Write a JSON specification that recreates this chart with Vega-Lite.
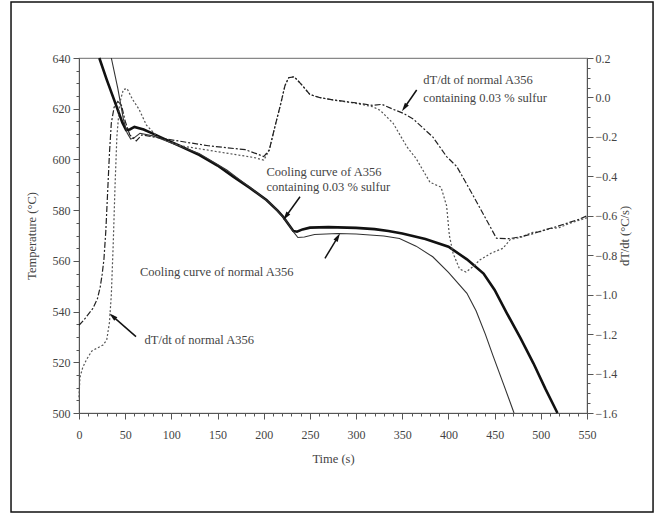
{
  "$schema": "https://vega.github.io/schema/vega-lite/v6.json",
  "width": 508,
  "height": 355,
  "autosize": {"type": "none"},
  "padding": {"left": 79, "top": 58, "right": 73, "bottom": 102},
  "background": "white",
  "config": {
    "view": {"stroke": "#888", "strokeWidth": 1.2},
    "axis": {
      "labelFont": "Liberation Serif", "titleFont": "Liberation Serif",
      "labelFontSize": 12, "titleFontSize": 12.5, "titleFontWeight": "normal",
      "labelColor": "#444", "titleColor": "#444", "domainColor": "#555", "tickColor": "#555",
      "grid": false, "labelOverlap": false, "labelFlush": false
    },
    "text": {"font": "Liberation Serif"}
  },
  "datasets": {
    "cool": [
      {"t": 22, "T": 640, "s": "S"}, {"t": 30, "T": 631.5, "s": "S"}, {"t": 40, "T": 621.5, "s": "S"}, {"t": 47, "T": 614.5, "s": "S"},
      {"t": 51, "T": 611.6, "s": "S"}, {"t": 55, "T": 611.8, "s": "S"}, {"t": 60, "T": 612.8, "s": "S"}, {"t": 70, "T": 611.8, "s": "S"},
      {"t": 80, "T": 610.2, "s": "S"}, {"t": 91, "T": 608.3, "s": "S"}, {"t": 110, "T": 605.2, "s": "S"}, {"t": 130, "T": 601.8, "s": "S"},
      {"t": 150, "T": 597.6, "s": "S"}, {"t": 167, "T": 593.2, "s": "S"}, {"t": 185, "T": 588.8, "s": "S"}, {"t": 203, "T": 584, "s": "S"},
      {"t": 215, "T": 579.8, "s": "S"}, {"t": 221, "T": 577.4, "s": "S"}, {"t": 227, "T": 574.3, "s": "S"}, {"t": 232, "T": 571.8, "s": "S"},
      {"t": 236, "T": 571.5, "s": "S"}, {"t": 242, "T": 572.4, "s": "S"}, {"t": 250, "T": 573.1, "s": "S"}, {"t": 270, "T": 573.3, "s": "S"},
      {"t": 300, "T": 573, "s": "S"}, {"t": 320, "T": 572.5, "s": "S"}, {"t": 335, "T": 571.8, "s": "S"}, {"t": 350, "T": 570.8, "s": "S"},
      {"t": 375, "T": 568.6, "s": "S"}, {"t": 400, "T": 565.6, "s": "S"}, {"t": 420, "T": 560.6, "s": "S"}, {"t": 438, "T": 555, "s": "S"},
      {"t": 450, "T": 548.5, "s": "S"}, {"t": 463, "T": 539.5, "s": "S"}, {"t": 478, "T": 529.5, "s": "S"}, {"t": 492, "T": 519.6, "s": "S"},
      {"t": 505, "T": 509.5, "s": "S"}, {"t": 518, "T": 500, "s": "S"},
      {"t": 35, "T": 640, "s": "N"}, {"t": 42, "T": 628, "s": "N"}, {"t": 48, "T": 616, "s": "N"}, {"t": 52, "T": 610.5, "s": "N"},
      {"t": 56, "T": 608, "s": "N"}, {"t": 60, "T": 608.6, "s": "N"}, {"t": 66, "T": 610.3, "s": "N"}, {"t": 80, "T": 609.3, "s": "N"},
      {"t": 100, "T": 606.5, "s": "N"}, {"t": 130, "T": 602.3, "s": "N"}, {"t": 160, "T": 595.8, "s": "N"}, {"t": 190, "T": 587.6, "s": "N"},
      {"t": 210, "T": 581.8, "s": "N"}, {"t": 225, "T": 575.5, "s": "N"}, {"t": 232, "T": 571.5, "s": "N"}, {"t": 237, "T": 569.2, "s": "N"},
      {"t": 244, "T": 569.4, "s": "N"}, {"t": 255, "T": 570.4, "s": "N"}, {"t": 280, "T": 570.8, "s": "N"}, {"t": 300, "T": 570.6, "s": "N"},
      {"t": 330, "T": 569.8, "s": "N"}, {"t": 347, "T": 568.8, "s": "N"}, {"t": 365, "T": 565.8, "s": "N"}, {"t": 383, "T": 561.6, "s": "N"},
      {"t": 400, "T": 555.5, "s": "N"}, {"t": 420, "T": 547.2, "s": "N"}, {"t": 430, "T": 540.2, "s": "N"}, {"t": 440, "T": 531, "s": "N"},
      {"t": 448, "T": 522.8, "s": "N"}, {"t": 460, "T": 511, "s": "N"}, {"t": 471, "T": 500, "s": "N"}
    ],
    "rate": [
      {"t": 0, "r": -1.155, "s": "S"}, {"t": 5, "r": -1.13, "s": "S"}, {"t": 10, "r": -1.1, "s": "S"}, {"t": 15, "r": -1.07, "s": "S"},
      {"t": 20, "r": -1.02, "s": "S"}, {"t": 23, "r": -0.96, "s": "S"}, {"t": 25, "r": -0.9, "s": "S"}, {"t": 27, "r": -0.82, "s": "S"},
      {"t": 29, "r": -0.68, "s": "S"}, {"t": 31, "r": -0.48, "s": "S"}, {"t": 33, "r": -0.28, "s": "S"}, {"t": 35, "r": -0.13, "s": "S"},
      {"t": 38, "r": -0.05, "s": "S"}, {"t": 42, "r": -0.02, "s": "S"}, {"t": 46, "r": -0.04, "s": "S"}, {"t": 50, "r": -0.12, "s": "S"},
      {"t": 55, "r": -0.19, "s": "S"}, {"t": 62, "r": -0.22, "s": "S"}, {"t": 68, "r": -0.19, "s": "S"}, {"t": 80, "r": -0.2, "s": "S"},
      {"t": 100, "r": -0.215, "s": "S"}, {"t": 120, "r": -0.23, "s": "S"}, {"t": 140, "r": -0.245, "s": "S"}, {"t": 160, "r": -0.255, "s": "S"},
      {"t": 180, "r": -0.265, "s": "S"}, {"t": 192, "r": -0.285, "s": "S"}, {"t": 200, "r": -0.3, "s": "S"}, {"t": 206, "r": -0.267, "s": "S"},
      {"t": 212, "r": -0.15, "s": "S"}, {"t": 218, "r": -0.04, "s": "S"}, {"t": 223, "r": 0.06, "s": "S"}, {"t": 227, "r": 0.1, "s": "S"},
      {"t": 233, "r": 0.105, "s": "S"}, {"t": 240, "r": 0.07, "s": "S"}, {"t": 250, "r": 0.015, "s": "S"}, {"t": 260, "r": 0.0, "s": "S"},
      {"t": 275, "r": -0.012, "s": "S"}, {"t": 300, "r": -0.028, "s": "S"}, {"t": 318, "r": -0.04, "s": "S"}, {"t": 328, "r": -0.035, "s": "S"},
      {"t": 340, "r": -0.06, "s": "S"}, {"t": 351, "r": -0.08, "s": "S"}, {"t": 362, "r": -0.11, "s": "S"}, {"t": 383, "r": -0.2, "s": "S"},
      {"t": 398, "r": -0.3, "s": "S"}, {"t": 409, "r": -0.35, "s": "S"}, {"t": 427, "r": -0.5, "s": "S"}, {"t": 441, "r": -0.62, "s": "S"},
      {"t": 452, "r": -0.714, "s": "S"}, {"t": 466, "r": -0.716, "s": "S"}, {"t": 480, "r": -0.705, "s": "S"}, {"t": 492, "r": -0.69, "s": "S"},
      {"t": 505, "r": -0.67, "s": "S"}, {"t": 517, "r": -0.655, "s": "S"}, {"t": 530, "r": -0.635, "s": "S"}, {"t": 540, "r": -0.62, "s": "S"},
      {"t": 550, "r": -0.6, "s": "S"},
      {"t": 0, "r": -1.52, "s": "N"}, {"t": 1, "r": -1.42, "s": "N"}, {"t": 4, "r": -1.37, "s": "N"}, {"t": 8, "r": -1.33, "s": "N"},
      {"t": 14, "r": -1.285, "s": "N"}, {"t": 20, "r": -1.27, "s": "N"}, {"t": 26, "r": -1.255, "s": "N"}, {"t": 30, "r": -1.23, "s": "N"},
      {"t": 33, "r": -1.14, "s": "N"}, {"t": 35, "r": -1.0, "s": "N"}, {"t": 37, "r": -0.75, "s": "N"}, {"t": 39, "r": -0.45, "s": "N"},
      {"t": 41, "r": -0.2, "s": "N"}, {"t": 44, "r": -0.03, "s": "N"}, {"t": 48, "r": 0.04, "s": "N"}, {"t": 52, "r": 0.045, "s": "N"},
      {"t": 58, "r": -0.01, "s": "N"}, {"t": 65, "r": -0.06, "s": "N"}, {"t": 73, "r": -0.14, "s": "N"}, {"t": 85, "r": -0.2, "s": "N"},
      {"t": 95, "r": -0.22, "s": "N"}, {"t": 110, "r": -0.245, "s": "N"}, {"t": 130, "r": -0.26, "s": "N"}, {"t": 150, "r": -0.275, "s": "N"},
      {"t": 170, "r": -0.29, "s": "N"}, {"t": 190, "r": -0.305, "s": "N"}, {"t": 200, "r": -0.318, "s": "N"}, {"t": 206, "r": -0.267, "s": "N"},
      {"t": 212, "r": -0.15, "s": "N"}, {"t": 218, "r": -0.04, "s": "N"}, {"t": 223, "r": 0.06, "s": "N"}, {"t": 227, "r": 0.1, "s": "N"},
      {"t": 233, "r": 0.105, "s": "N"}, {"t": 240, "r": 0.07, "s": "N"}, {"t": 250, "r": 0.015, "s": "N"}, {"t": 260, "r": 0.0, "s": "N"},
      {"t": 275, "r": -0.013, "s": "N"}, {"t": 300, "r": -0.03, "s": "N"}, {"t": 318, "r": -0.047, "s": "N"}, {"t": 326, "r": -0.065, "s": "N"},
      {"t": 333, "r": -0.098, "s": "N"}, {"t": 340, "r": -0.13, "s": "N"}, {"t": 355, "r": -0.25, "s": "N"}, {"t": 365, "r": -0.31, "s": "N"},
      {"t": 380, "r": -0.43, "s": "N"}, {"t": 392, "r": -0.455, "s": "N"}, {"t": 398, "r": -0.55, "s": "N"}, {"t": 401, "r": -0.7, "s": "N"},
      {"t": 405, "r": -0.79, "s": "N"}, {"t": 412, "r": -0.87, "s": "N"}, {"t": 419, "r": -0.885, "s": "N"}, {"t": 426, "r": -0.86, "s": "N"},
      {"t": 434, "r": -0.824, "s": "N"}, {"t": 446, "r": -0.79, "s": "N"}, {"t": 459, "r": -0.765, "s": "N"}, {"t": 467, "r": -0.72, "s": "N"},
      {"t": 478, "r": -0.71, "s": "N"}, {"t": 490, "r": -0.685, "s": "N"}, {"t": 500, "r": -0.68, "s": "N"}, {"t": 510, "r": -0.665, "s": "N"},
      {"t": 520, "r": -0.66, "s": "N"}, {"t": 530, "r": -0.64, "s": "N"}, {"t": 540, "r": -0.625, "s": "N"}, {"t": 550, "r": -0.61, "s": "N"}
    ],
    "notes": [
      {"t": 372.8, "T": 631.3, "text": "dT/dt of normal A356"},
      {"t": 372.8, "T": 624.3, "text": "containing 0.03 % sulfur"},
      {"t": 203, "T": 595.2, "text": "Cooling curve of A356"},
      {"t": 203, "T": 589.2, "text": "containing 0.03 % sulfur"},
      {"t": 66, "T": 555.7, "text": "Cooling curve of normal A356"},
      {"t": 71, "T": 528.8, "text": "dT/dt of normal A356"}
    ],
    "arrows": [
      {"t": 365.6, "T": 627.4, "t2": 352.3, "T2": 620.4},
      {"t": 239.3, "T": 585.3, "t2": 223.9, "T2": 577.5},
      {"t": 266.3, "T": 561.0, "t2": 280.2, "T2": 569.4},
      {"t": 61.7, "T": 530.1, "t2": 36.3, "T2": 538.2}
    ]
  },
  "layer": [
    {
      "layer": [
        {
          "data": {"name": "cool"},
          "transform": [{"filter": "datum.s === 'S'"}],
          "mark": {"type": "line", "color": "#111", "strokeWidth": 2.6},
          "encoding": {
            "x": {"field": "t", "type": "quantitative",
              "scale": {"domain": [0, 550], "nice": false, "zero": false},
              "axis": {"title": "Time (s)", "tickCount": 1000,
                "values": [0,10,20,30,40,50,60,70,80,90,100,110,120,130,140,150,160,170,180,190,200,210,220,230,240,250,260,270,280,290,300,310,320,330,340,350,360,370,380,390,400,410,420,430,440,450,460,470,480,490,500,510,520,530,540,550],
                "labelExpr": "datum.value % 50 === 0 ? format(datum.value, 'd') : ''",
                "tickSize": {"condition": {"test": "datum.value % 50 === 0", "value": 6}, "value": 3},
                "labelPadding": 10, "titlePadding": 12}},
            "y": {"field": "T", "type": "quantitative",
              "scale": {"domain": [500, 640], "nice": false, "zero": false},
              "axis": {"title": "Temperature (°C)", "orient": "left", "tickCount": 1000,
                "values": [500,505,510,515,520,525,530,535,540,545,550,555,560,565,570,575,580,585,590,595,600,605,610,615,620,625,630,635,640],
                "labelExpr": "datum.value % 20 === 0 ? format(datum.value, 'd') : ''",
                "tickSize": {"condition": {"test": "datum.value % 20 === 0", "value": 6}, "value": 3},
                "labelPadding": 3, "titlePadding": 14}}
          }
        },
        {
          "data": {"name": "cool"},
          "transform": [{"filter": "datum.s === 'N'"}],
          "mark": {"type": "line", "color": "#333", "strokeWidth": 1.1},
          "encoding": {
            "x": {"field": "t", "type": "quantitative"},
            "y": {"field": "T", "type": "quantitative"}
          }
        },
        {
          "data": {"name": "notes"},
          "mark": {"type": "text", "align": "left", "baseline": "middle", "fontSize": 12.5, "color": "#444", "font": "Liberation Serif"},
          "encoding": {
            "x": {"field": "t", "type": "quantitative"},
            "y": {"field": "T", "type": "quantitative"},
            "text": {"field": "text"}
          }
        },
        {
          "data": {"name": "arrows"},
          "mark": {"type": "rule", "color": "#111", "strokeWidth": 1.5},
          "encoding": {
            "x": {"field": "t", "type": "quantitative"},
            "y": {"field": "T", "type": "quantitative"},
            "x2": {"field": "t2"},
            "y2": {"field": "T2"}
          }
        },
        {
          "data": {"values": [{}]},
          "mark": {"type": "point", "shape": "M0,-1L0.55,1L-0.55,1Z", "filled": true, "color": "#111", "opacity": 1, "size": 75, "angle": -145},
          "encoding": {"x": {"datum": 352.3}, "y": {"datum": 620.4}}
        },
        {
          "data": {"values": [{}]},
          "mark": {"type": "point", "shape": "M0,-1L0.55,1L-0.55,1Z", "filled": true, "color": "#111", "opacity": 1, "size": 75, "angle": -144},
          "encoding": {"x": {"datum": 223.9}, "y": {"datum": 577.5}}
        },
        {
          "data": {"values": [{}]},
          "mark": {"type": "point", "shape": "M0,-1L0.55,1L-0.55,1Z", "filled": true, "color": "#111", "opacity": 1, "size": 75, "angle": 31},
          "encoding": {"x": {"datum": 280.2}, "y": {"datum": 569.4}}
        },
        {
          "data": {"values": [{}]},
          "mark": {"type": "point", "shape": "M0,-1L0.55,1L-0.55,1Z", "filled": true, "color": "#111", "opacity": 1, "size": 75, "angle": -49},
          "encoding": {"x": {"datum": 36.3}, "y": {"datum": 538.2}}
        },
        {
          "data": {"values": [{}]},
          "mark": {"type": "rect", "fill": null, "fillOpacity": 0, "stroke": "#111", "strokeWidth": 1.5},
          "encoding": {"x": {"datum": -73.6}, "x2": {"datum": 621.5}, "y": {"datum": 461}, "y2": {"datum": 662.1}}
        }
      ]
    },
    {
      "layer": [
        {
          "data": {"name": "rate"},
          "transform": [{"filter": "datum.s === 'N'"}],
          "mark": {"type": "line", "color": "#555", "strokeWidth": 1.2, "strokeDash": [2, 2]},
          "encoding": {
            "x": {"field": "t", "type": "quantitative"},
            "y": {"field": "r", "type": "quantitative",
              "scale": {"domain": [-1.6, 0.2], "nice": false, "zero": false},
              "axis": {"title": "dT/dt (°C/s)", "orient": "right", "titleAngle": 270, "tickCount": 1000,
                "values": [-1.6,-1.55,-1.5,-1.45,-1.4,-1.35,-1.3,-1.25,-1.2,-1.15,-1.1,-1.05,-1.0,-0.95,-0.9,-0.85,-0.8,-0.75,-0.7,-0.65,-0.6,-0.55,-0.5,-0.45,-0.4,-0.35,-0.3,-0.25,-0.2,-0.15,-0.1,-0.05,0,0.05,0.1,0.15,0.2],
                "labelExpr": "abs(round(datum.value*100)) % 20 === 0 ? format(datum.value, '.1f') : ''",
                "tickSize": {"condition": {"test": "abs(round(datum.value*100)) % 20 === 0", "value": 6}, "value": 3},
                "labelPadding": 2, "titlePadding": 15}}
          }
        },
        {
          "data": {"name": "rate"},
          "transform": [{"filter": "datum.s === 'S'"}],
          "mark": {"type": "line", "color": "#222", "strokeWidth": 1.2, "strokeDash": [6, 2, 2, 2]},
          "encoding": {
            "x": {"field": "t", "type": "quantitative"},
            "y": {"field": "r", "type": "quantitative"}
          }
        }
      ]
    }
  ],
  "resolve": {"scale": {"y": "independent"}}
}
